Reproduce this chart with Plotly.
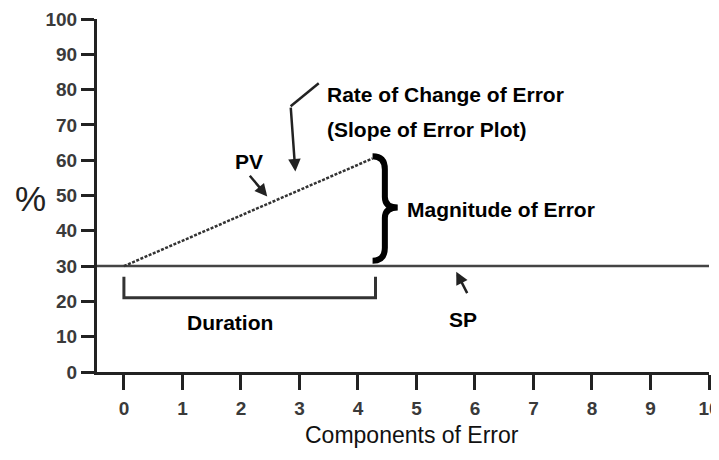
import plotly.graph_objects as go

# set point line (SP) and process variable (PV) ramp
sp_x = [-0.46, 10]
sp_y = [30, 30]
pv_x = [0, 4.25]
pv_y = [30, 60.5]
# duration bracket
dur_x = [0, 0, 4.3, 4.3]
dur_y = [27, 21, 21, 27]

x_ticks = list(range(0, 11))
y_ticks = list(range(0, 101, 10))
x_labels = [str(v) for v in x_ticks]
y_labels = [str(v) for v in y_ticks]

bold = dict(family='Liberation Sans, Arial', size=21, color='black')
tickfont = dict(family='Liberation Sans, Arial', size=19, color='#3a3a3a')
ink = '#222222'

pdata = [
    go.Scatter(x=sp_x, y=sp_y, mode='lines', line=dict(color='#444444', width=2.5), hoverinfo='skip'),
    go.Scatter(x=pv_x, y=pv_y, mode='lines', line=dict(color='#333333', width=2.5, dash='3px,1.5px'), hoverinfo='skip'),
    go.Scatter(x=dur_x, y=dur_y, mode='lines', line=dict(color='#333333', width=3), hoverinfo='skip'),
]

# page body adds 8px around the figure, so margins are shifted by 8px
playout = {
    'width': 719, 'height': 452,
    'showlegend': False,
    'plot_bgcolor': 'white', 'paper_bgcolor': 'white',
    'margin': {'l': 89, 'r': 18, 't': 11, 'b': 88, 'pad': 0},
    'xaxis': {
        'range': [-0.46, 10], 'tickvals': x_ticks, 'ticktext': [f'<b>{t}</b>' for t in x_labels],
        'ticks': 'outside', 'ticklen': 15, 'tickwidth': 3,
        'tickcolor': ink, 'showline': True, 'linewidth': 3, 'linecolor': ink, 'showgrid': False,
        'zeroline': False, 'tickfont': tickfont, 'ticklabelstandoff': 2, 'automargin': False,
        'ticklabeloverflow': 'allow',
    },
    'yaxis': {
        'range': [0, 100], 'tickvals': y_ticks, 'ticktext': [f'<b>{t}</b>' for t in y_labels],
        'ticks': 'outside', 'ticklen': 13, 'tickwidth': 3,
        'tickcolor': ink, 'showline': True, 'linewidth': 3, 'linecolor': ink, 'showgrid': False,
        'zeroline': False, 'tickfont': tickfont, 'ticklabelstandoff': 0, 'automargin': False,
        'ticklabeloverflow': 'allow',
    },
}

fig = go.Figure(data=pdata, layout=playout)

# curly brace for magnitude of error
fig.add_shape(type='path', xref='x', yref='y',
              path='M 4.25,61.1 Q 4.46,61.1 4.46,57.4 L 4.46,49.6 Q 4.46,46.6 4.68,46.6 '
                   'Q 4.46,46.6 4.46,43.6 L 4.46,35.2 Q 4.46,31.5 4.25,31.5',
              line=dict(color='black', width=6))
# bent part of slope arrow
fig.add_shape(type='line', xref='x', yref='y', x0=3.33, y0=81.8, x1=2.85, y1=75.3,
              line=dict(color='#222222', width=2.5))

arr = dict(showarrow=True, arrowhead=2, arrowsize=1, arrowwidth=2.5, arrowcolor='#222222',
           axref='x', ayref='y', text='')
fig.add_annotation(x=2.93, y=56.8, ax=2.85, ay=75.3, **arr)
fig.add_annotation(x=2.45, y=49.7, ax=2.13, ay=56, **arr)
fig.add_annotation(x=5.68, y=28.4, ax=5.88, ay=21.9, **arr)

fig.add_annotation(x=2.13, y=59.7, text='<b>PV</b>', showarrow=False, font=bold)
fig.add_annotation(x=3.43, y=78.7, text='<b>Rate of Change of Error</b>', showarrow=False, font=bold, xanchor='left')
fig.add_annotation(x=3.43, y=68.8, text='<b>(Slope of Error Plot)</b>', showarrow=False, font=bold, xanchor='left')
fig.add_annotation(x=4.8, y=46, text='<b>Magnitude of Error</b>', showarrow=False, font=bold, xanchor='left')
fig.add_annotation(x=1.82, y=14, text='<b>Duration</b>', showarrow=False, font=bold)
fig.add_annotation(x=5.8, y=14.8, text='<b>SP</b>', showarrow=False, font=bold)

# axis titles
fig.add_annotation(xref='paper', yref='paper', x=0, y=0.5, xshift=-67, yshift=-3, text='%',
                   xanchor='center', yanchor='middle', showarrow=False,
                   font=dict(family='Liberation Sans, Arial', size=35, color='#222222'))
fig.add_annotation(xref='paper', yref='paper', x=0.5, y=0, xshift=9, yshift=-63, text='Components of Error',
                   xanchor='center', yanchor='middle', showarrow=False,
                   font=dict(family='Liberation Sans, Arial', size=23, color='#111111'))

fig.write_html("out.html")
